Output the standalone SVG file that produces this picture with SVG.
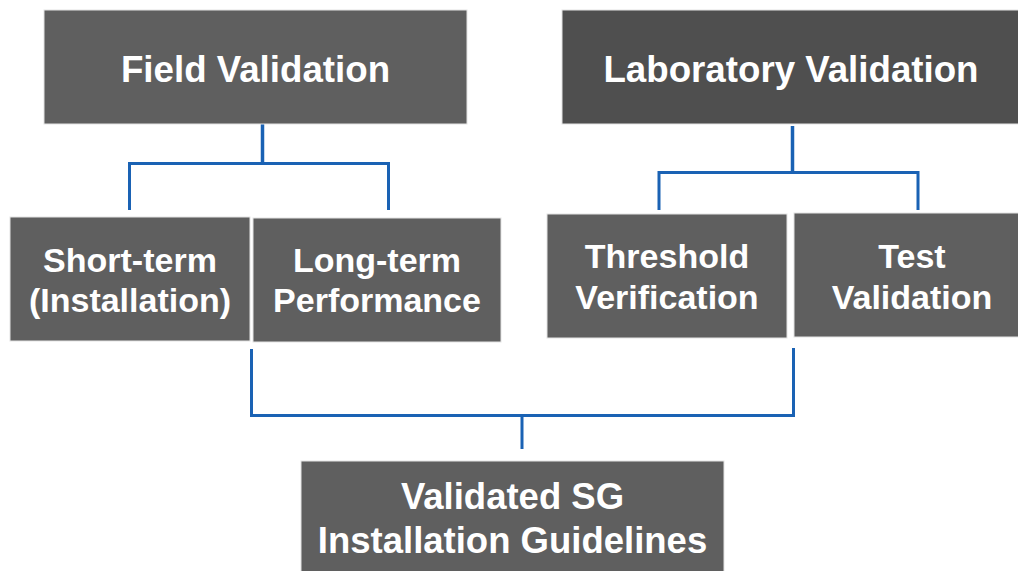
<svg xmlns="http://www.w3.org/2000/svg" width="1018" height="571" viewBox="0 0 1018 571">
  <style>
    .box { fill: #5f5f5f; stroke: #e4e4e4; stroke-width: 1; }
    .box.dark { fill: #4f4f4f; }
    .label { font-family: "Liberation Sans", Arial, sans-serif; font-weight: bold; fill: #ffffff; text-anchor: middle; }
    .wire { fill: none; stroke: #1a62b4; stroke-width: 3; stroke-linejoin: miter; stroke-linecap: butt; }
  </style>
  <rect width="1018" height="571" fill="#ffffff"/>

  <!-- connectors -->
  <g id="connectors">
    <path class="wire" d="M262.5 118 V163.5" style="stroke-width:3.5"/>
    <path class="wire" d="M129.5 210 V163.5 H388.5 V210"/>
    <path class="wire" d="M792.5 126 V172.5" style="stroke-width:3.5"/>
    <path class="wire" d="M659 210 V172.5 H918 V210"/>
    <path class="wire" d="M251.5 349 V415.5 H793.5 V348"/>
    <path class="wire" d="M522 415.5 V449"/>
  </g>

  <g id="field-validation">
    <rect class="box" x="44" y="10" width="423" height="114"/>
    <text class="label" x="255.5" y="82" font-size="36.7">Field Validation</text>
  </g>

  <g id="laboratory-validation">
    <rect class="box dark" x="562" y="10" width="460" height="114"/>
    <text class="label" x="791" y="82" font-size="36.7">Laboratory Validation</text>
  </g>

  <g id="short-term">
    <rect class="box" x="10" y="217" width="240" height="124"/>
    <text class="label" font-size="34"><tspan x="130" y="272">Short-term</tspan><tspan x="130" y="312">(Installation)</tspan></text>
  </g>

  <g id="long-term">
    <rect class="box" x="253" y="218" width="248" height="124"/>
    <text class="label" font-size="34"><tspan x="377" y="272">Long-term</tspan><tspan x="377" y="312">Performance</tspan></text>
  </g>

  <g id="threshold-verification">
    <rect class="box" x="547" y="214" width="240" height="124"/>
    <text class="label" font-size="34"><tspan x="667" y="268">Threshold</tspan><tspan x="667" y="309">Verification</tspan></text>
  </g>

  <g id="test-validation">
    <rect class="box" x="794" y="213" width="236" height="124"/>
    <text class="label" font-size="34"><tspan x="912" y="268">Test</tspan><tspan x="912" y="309">Validation</tspan></text>
  </g>

  <g id="validated-guidelines">
    <rect class="box" x="301" y="461" width="423" height="114"/>
    <text class="label" font-size="36.5"><tspan x="512.5" y="509">Validated SG</tspan><tspan x="512.5" y="553">Installation Guidelines</tspan></text>
  </g>
</svg>
